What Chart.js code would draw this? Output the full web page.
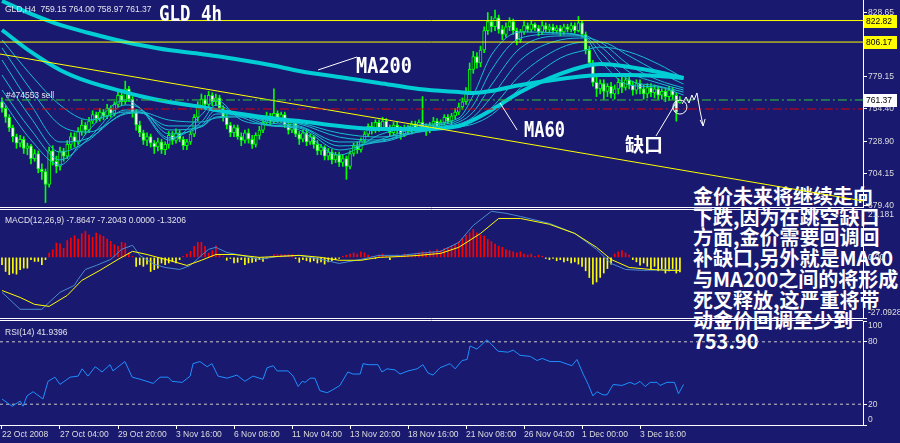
<!DOCTYPE html>
<html>
<head>
<meta charset="utf-8">
<script src="https://cdn.jsdelivr.net/npm/chart.js@4.4.1/dist/chart.umd.min.js"></script>
<style>
html, body { margin: 0; padding: 0; background: #191970; overflow: hidden; }
#wrap { position: relative; width: 900px; height: 443px; }
#wrap canvas { position: absolute; left: 0; top: 0; z-index: 1; }
#note { position: absolute; left: 693px; top: 186px; z-index: 0; color: #fff;
        font: 700 20px/20.7px "Noto Sans CJK SC"; white-space: nowrap; }
</style>
</head>
<body>
<div id="wrap">
  <div id="note">金价未来将继续走向<br>下跌,因为在跳空缺口<br>方面,金价需要回调回<br>补缺口,另外就是MA60<br>与MA200之间的将形成<br>死叉释放,这严重将带<br>动金价回调至少到<br>753.90</div>
  <canvas id="main" width="900" height="443"></canvas>
  <canvas id="macd" width="900" height="443"></canvas>
  <canvas id="rsi" width="900" height="443"></canvas>
</div>
<script>
const BG = '#191970';
const X_MIN = -0.55, X_MAX = 237.5;

// time axis (bar index -> label)
const timeBars = [0, 16, 32, 48, 64, 80, 96, 112, 128, 144, 160, 176];
const timeLabels = ['22 Oct 2008', '27 Oct 04:00', '29 Oct 20:00', '3 Nov 16:00', '6 Nov 08:00', '11 Nov 04:00',
  '13 Nov 20:00', '18 Nov 16:00', '21 Nov 08:00', '26 Nov 04:00', '1 Dec 00:00', '3 Dec 16:00'];

// GLD H4 candles
const opens = [760,755,748,740,733,728,731,724,726,716, 720,708,706,696,722,714,710,722,718,727,
  733,729,737,742,738,745,750,747,752,749, 755,751,758,765,760,770,762,752,742,736,
  730,733,728,725,729,723,727,734,730,736, 731,726,729,735,748,757,762,758,765,760,
  763,755,748,742,736,740,733,730,736,731, 727,734,738,744,749,745,751,746,750,742,
  738,744,735,731,736,729,733,727,722,725, 718,721,715,719,713,716,710,720,726,723,
  730,735,741,738,744,740,745,740,736,742, 738,735,740,737,743,739,744,741,738,742,
  745,741,744,748,745,749,752,756,760,768, 785,795,790,800,815,822,818,825,816,812,
  818,822,815,808,814,819,816,820,817,814, 819,816,818,815,817,814,818,816,819,815,
  821,812,800,790,775,770,774,768,772,766, 770,775,771,777,773,769,774,770,766,771,
  767,770,765,768,764,769,765,759.15];
const highs = [763,757,750,742,735,734,733,728,727,723, 722,712,708,725,726,718,725,724,730,736,
  736,740,746,744,748,753,752,755,754,758, 757,760,768,767,776,772,764,754,745,738,
  736,735,730,732,731,729,737,737,739,738, 733,731,737,750,760,766,765,768,767,766,
  765,757,750,744,742,742,736,738,739,734, 736,741,747,752,751,770,753,752,752,745,
  746,746,737,738,738,735,734,730,727,726, 724,723,721,721,719,718,722,728,729,732,
  737,743,744,746,746,748,747,742,744,744, 741,742,742,745,745,746,764,743,744,748,
  747,746,750,750,751,755,759,763,771,790, 799,798,803,818,829,826,831,827,819,821,
  825,824,817,816,822,821,823,821,819,822, 821,820,820,819,819,820,820,821,821,826,
  823,814,803,792,779,777,777,774,775,773, 778,779,780,781,776,777,777,773,774,774,
  773,772,770,770,772,771,767,764];
const lows = [752,744,737,729,724,725,720,719,712,714, 705,700,682,694,711,705,707,714,716,724,
  725,727,734,735,736,743,744,745,746,747, 748,749,756,757,758,760,748,738,733,727,
  726,725,720,722,720,719,724,727,728,729, 723,723,727,733,745,754,755,756,757,757,
  753,745,739,733,733,731,726,728,728,724, 725,731,736,742,742,743,744,744,740,735,
  736,733,727,729,726,727,724,719,719,715, 715,712,713,710,710,700,708,718,720,721,
  728,733,735,736,737,738,738,733,734,735, 731,733,735,735,737,737,739,734,736,740,
  739,739,742,743,743,747,750,754,758,766, 782,786,787,798,812,814,815,813,808,810,
  815,812,804,806,812,814,814,815,811,812, 814,814,813,813,811,812,814,814,813,814,
  810,797,787,772,764,766,762,764,763,762, 766,767,769,770,765,766,766,762,763,764,
  763,762,762,760,761,762,745,758.97];
const closes = [755,748,740,733,728,731,724,726,716,720, 708,706,696,722,714,710,722,718,727,733,
  729,737,742,738,745,750,747,752,749,755, 751,758,765,760,770,762,752,742,736,730,
  733,728,725,729,723,727,734,730,736,731, 726,729,735,748,757,762,758,765,760,763,
  755,748,742,736,740,733,730,736,731,727, 734,738,744,749,745,751,746,750,742,738,
  744,735,731,736,729,733,727,722,725,718, 721,715,719,713,716,710,720,726,723,730,
  735,741,738,744,740,745,740,736,742,738, 735,740,737,743,739,744,741,738,742,745,
  741,744,748,745,749,752,756,760,768,785, 795,790,800,815,822,818,825,816,812,818,
  822,815,808,814,819,816,820,817,814,819, 816,818,815,817,814,818,816,819,815,821,
  812,800,790,775,770,774,768,772,766,770, 775,771,777,773,769,774,770,766,771,767,
  770,765,768,764,769,765,752,761.37];

// moving averages, read at these bars
const maBars = [0,8,16,24,34,38,46,55,59,66,74,82,93,104,115,126,130,135,143,154,161,165,173,181,188];
const ma200 = [837.9,827.9,819.4,813.2,806.2,803.9,800.0,796.9,795.4,792.3,788.4,783.8,779.1,774.5,769.9,767.5,766.8,768.3,773.0,777.6,779.9,780.7,780.7,779.9,778.4];
const ma60 = [815.5,798.5,784.6,775.3,767.5,764.5,759.8,756.0,753.6,750.5,747.4,745.1,741.2,738.9,738.9,741.2,745.9,753.6,767.5,781.5,787.7,789.2,786.9,783.0,778.4];
const ribbon1 = [761.4,730.4,711.1,738.2,761.4,755.2,730.4,749.8,761.4,745.9,742.0,738.2,718.8,734.3,742.0,747.4,765.2,796.2,814.0,813.2,809.3,792.3,773.0,771.4,765.2];
const ribbon2 = [769.1,738.2,715.0,732.0,757.5,755.2,732.0,744.3,757.5,748.2,741.3,739.7,722.7,730.4,740.5,745.9,757.5,784.6,809.3,812.4,810.1,798.5,776.8,772.2,767.5];
const ribbon3 = [780.7,747.4,721.1,730.4,753.6,753.6,735.1,741.3,753.6,749.8,742.0,740.5,725.8,728.9,738.9,744.3,752.1,773.0,801.6,810.9,810.9,803.1,783.0,774.5,769.1];
const ribbon4 = [792.3,757.5,728.9,732.0,751.3,752.1,738.2,740.5,750.5,749.8,743.6,741.3,728.9,728.9,737.4,742.8,748.2,763.7,792.3,807.8,809.3,806.2,788.4,776.8,770.6];
const ribbon5 = [801.6,769.1,742.0,736.6,750.5,751.3,741.3,741.3,748.2,749.0,745.1,742.8,732.7,730.4,736.6,741.3,745.1,755.2,780.7,801.6,806.2,806.2,795.4,783.0,773.7];
const ribbon6 = [807.8,780.7,757.5,745.9,752.1,752.1,745.9,744.3,747.4,748.2,745.9,743.6,735.8,732.7,736.6,740.5,742.8,749.8,770.6,793.8,800.0,802.3,798.5,789.2,778.4];

// chart objects
const levelPrices = [822.82, 806.17, 761.37, 754.40];
const levelStartBars = [X_MIN, X_MIN, 0.8, 6.3];
const trendBars = [X_MIN, X_MAX];
const trendPrices = [796.9, 683.3];
const mainTicks = [828.65, 803.90, 779.15, 754.40, 728.90, 704.15, 679.40];

// hand-drawn notes (bar, price)
const ma200NoteBars = [87.2, 97.9], ma200NotePrices = [784.6, 794.6];
const ma60NoteBars = [137.4, 142.1], ma60NotePrices = [759.0, 738.2];
const gapNoteBars = [180.4, 185.7], gapNotePrices = [733.5, 758.3];
const gapCircleBar = 187, gapCirclePrice = 755.9;
const pathBars = [187.6, 188.7, 189.5, 190.3, 190.9, 191.7, 192.5, 193.4];
const pathPrices = [758.3, 763.7, 759.0, 765.2, 761.4, 766.8, 753.6, 741.3];

// MACD(12,26,9)
const macdHist = [-3.3,-6.3,-7.7,-7.0,-7.5,-5.5,-4.8,-4.8,-1.0,-1.8, -1.8,-3.3,-1.0,1.9,3.4,6.4,6.1,4.0,7.5,8.6,
  9.7,8.2,10.6,11.6,10.1,9.0,10.9,10.1,9.4,8.2, 7.2,5.7,4.9,6.7,6.4,2.0,0.5,-4.0,-3.3,-4.0,
  -3.0,-6.3,-5.5,-4.8,-2.5,-3.3,-2.5,-1.8,-2.5,-1.0, 0.5,1.5,2.7,4.9,6.7,6.7,4.9,1.9,3.0,5.2,
  1.2,0.3,-1.3,-0.5,-2.5,-2.2,-1.0,-3.3,-2.5,-2.2, -1.8,-1.0,-1.8,-0.5,0.3,1.2,1.2,1.2,1.2,1.2,
  1.2,-0.5,-2.2,-1.0,-1.5,-2.0,-1.5,-2.5,-2.0,-3.0, -2.0,-1.5,-1.0,-0.5,0.5,1.0,1.5,2.0,1.5,2.5,
  2.0,1.0,0.5,-0.5,1.0,1.5,0.5,-1.0,0.5,1.0, 0.5,1.5,1.0,0.5,1.5,2.0,2.5,2.0,3.0,2.5,
  3.5,3.0,4.0,4.5,5.0,6.0,7.0,8.5,10.0,11.0, 12.5,11.0,10.0,9.5,8.0,7.0,6.0,5.0,4.5,3.5,
  3.0,2.5,2.0,2.5,1.5,1.0,1.5,0.5,1.0,0.5, -0.5,-1.0,-0.5,-1.5,-1.0,-2.0,-1.5,-2.5,-2.0,-3.0,
  -4.0,-6.0,-9.0,-12.0,-11.0,-9.0,-7.0,-5.0,-3.0,1.5, 2.5,3.0,2.0,1.0,-1.0,-2.0,-3.5,-2.5,-4.0,-5.0,
  -4.0,-6.0,-5.0,-7.0,-6.0,-5.0,-7.0,-6.5];
const macdBars = [0,5,11,13,16,20,21,23,26,30,33,36,38,42,45,49,52,55,57,59,62,66,71,76,82,88,93,99,104,110,115,121,126,130,135,139,143,151,158,164,168,172,177,183,187];
const macdMain = [-15.6,-23.2,-23.2,-20.1,-15.6,-12.5,-9.8,-5.4,-3.6,-0.9,3.6,5.4,0.9,-3.1,-4.5,-5.4,-3.6,0.9,3.6,4.5,2.2,0.9,-0.9,0.4,0.9,-0.9,-2.7,-0.9,0.9,0.9,1.8,2.7,6.7,14.3,20.6,19.7,18.3,15.2,10.7,3.6,-2.7,-5.4,-5.8,-5.5,-5.8];
const signalBars = [0,5,9,13,18,22,27,32,36,40,46,51,55,59,64,71,82,88,93,99,104,110,115,121,126,132,137,143,151,158,164,168,173,179,184,187];
const macdSignal = [-14.8,-17.9,-21.0,-21.9,-17.0,-10.3,-5.8,-0.9,2.7,1.3,-1.3,-3.6,-1.3,1.3,1.3,0,0.9,0,-1.3,-1.3,0,0.4,0.9,1.8,4.5,10.7,17.4,17.4,14.8,10.7,4.5,-0.9,-4.5,-5.4,-5.8,-5.8];
const macdTicks = [21.181, 0, -27.0928];

// RSI(14)
const rsiBars = [0,2.8,5.0,5.8,6.9,8.6,11.3,12.7,14.6,16.0, 18.8,21.0,22.1,23.7,25.7,27.6,29.8,30.6,33.9,35.9,
  38.1,41.7,43.6,45.8,46.9,49.7,51.9,52.7,54.6,56.6, 57.9,59.6,62.1,64.8,67.0,69.2,72.0,73.1,74.8,75.9,
  78.9,80.3,81.7,82.8,83.6,85.0,86.3,87.7,89.7,91.3, 93.2,95.4,96.8,98.8,99.6,101.0,103.7,104.8,106.2,108.4,
  109.8,112.0,114.5,116.1,117.5,118.9,120.8,123.6,125.0,126.9, 128.3,129.1,131.0,133.8,136.8,139.6,141.0,142.9,145.7,147.6,
  149.0,151.2,153.9,157.2,158.6,160.3,161.7,163.0,164.1,165.8, 166.9,168.6,171.0,173.2,174.6,176.0,177.4,178.8,180.7,181.5,
  183.4,185.5,186.6,188.0];
const rsiVals = [25,18,23,18,28,32,25,42,46,39, 46,47,54,47,56,51,58,52,61,46,
  44,40,46,46,42,41,47,59,61,56, 59,47,45,48,42,47,44,55,57,52,
  52,47,37,42,41,45,45,33,31,34, 38,51,49,49,59,58,58,51,54,53,
  49,52,54,58,50,48,55,59,54,62, 63,76,73,82,71,70,72,67,66,62,
  64,61,61,57,63,49,39,28,32,29, 29,39,38,41,39,42,37,41,41,38,
  41,41,30,39];
const rsiLevels = [80, 20];
const rsiTicks = [100, 80, 20, 0];

const FONT = '"Liberation Sans", Arial, sans-serif';
const AXIS_TXT = '#dcdcdc';

function pts(xs, ys) { return xs.map((x, i) => ({ x: x, y: ys[i] })); }

function lineSet(xs, ys, color, width, extra) {
  return Object.assign({ type: 'line', data: pts(xs, ys), borderColor: color, borderWidth: width,
    pointRadius: 0, fill: false }, extra || {});
}

function hiddenX() {
  return { type: 'linear', min: X_MIN, max: X_MAX, display: false, offset: false };
}

function rightAxis(min, max, tickVals, fmt) {
  return {
    type: 'linear', position: 'right', min: min, max: max,
    afterBuildTicks: s => { s.ticks = tickVals.map(v => ({ value: v })); },
    afterFit: s => { s.width = 37; s.paddingTop = 0; s.paddingBottom = 0; },
    ticks: { color: AXIS_TXT, font: { family: FONT, size: 8.5 }, padding: 1, autoSkip: false, callback: fmt },
    grid: { drawOnChartArea: false, color: '#ffffff', tickLength: 4 },
    border: { color: '#ffffff' }
  };
}

function separators(chart) {
  const { ctx, chartArea } = chart;
  ctx.save();
  ctx.strokeStyle = '#ffffff';
  ctx.lineWidth = 1;
  [0.5, 2.5].forEach(off => {
    ctx.beginPath();
    ctx.moveTo(0, chartArea.bottom + off);
    ctx.lineTo(chartArea.right, chartArea.bottom + off);
    ctx.stroke();
  });
  ctx.restore();
}

const baseOptions = (padTop, padBottom) => ({
  responsive: false, animation: false, events: [],
  layout: { padding: { top: padTop, bottom: padBottom, left: 0, right: 0 } },
  plugins: { legend: { display: false }, tooltip: { enabled: false } }
});

// ---------- main price panel ----------
const levelColors = ['#ffff00', '#ffff00', '#32cd32', '#e00000'];
const levelDashes = [[], [], [9, 3, 2, 3], [9, 3, 2, 3]];
const tagColors = ['#ffff00', '#ffff00', '#ffffff'];

const mainSets = [];
levelPrices.forEach((p, i) => {
  mainSets.push(lineSet([levelStartBars[i], X_MAX], [p, p], levelColors[i], 1, { borderDash: levelDashes[i], order: 2 }));
});
mainSets.push(lineSet(trendBars, trendPrices, '#ffff00', 1, { order: 2 }));
mainSets.push({
  type: 'bar', data: opens.map((o, i) => ({ x: i, y: [lows[i], highs[i]] })),
  backgroundColor: '#00ff00', barThickness: 1, grouped: false, order: 6
});
mainSets.push({
  type: 'bar', data: opens.map((o, i) => ({ x: i, y: [o, closes[i]] })),
  backgroundColor: c => closes[c.dataIndex] >= opens[c.dataIndex] ? BG : '#ffffff',
  borderColor: '#00ff00', borderWidth: 1, borderSkipped: false, minBarLength: 1,
  barThickness: 3, grouped: false, order: 5
});
[ribbon1, ribbon2, ribbon3, ribbon4, ribbon5, ribbon6].forEach(r => {
  mainSets.push(lineSet(maBars, r, '#19bfd0', 1, { cubicInterpolationMode: 'monotone', order: 4 }));
});
mainSets.push(lineSet(maBars, ma60, '#00cdd4', 4, { cubicInterpolationMode: 'monotone', order: 3 }));
mainSets.push(lineSet(maBars, ma200, '#00cdd4', 4, { cubicInterpolationMode: 'monotone', order: 3 }));
mainSets.push(lineSet(ma200NoteBars, ma200NotePrices, '#ffffff', 1, { order: 1 }));
mainSets.push(lineSet(ma60NoteBars, ma60NotePrices, '#ffffff', 1, { order: 1 }));
mainSets.push(lineSet(gapNoteBars, gapNotePrices, '#ffffff', 1, { order: 1 }));
mainSets.push(lineSet(pathBars, pathPrices, '#ffffff', 1, { order: 1 }));

const mainDecor = {
  id: 'mainDecor',
  afterDatasetsDraw(chart) {
    const { ctx, scales: { x, y } } = chart;
    ctx.save();
    ctx.strokeStyle = '#ffffff';
    ctx.lineWidth = 1;
    ctx.beginPath();
    ctx.arc(x.getPixelForValue(gapCircleBar), y.getPixelForValue(gapCirclePrice), 7, 0, Math.PI * 2);
    ctx.stroke();
    const n = pathBars.length;
    const ex = x.getPixelForValue(pathBars[n - 1]), ey = y.getPixelForValue(pathPrices[n - 1]);
    ctx.beginPath();
    ctx.moveTo(ex - 3, ey - 6); ctx.lineTo(ex, ey); ctx.lineTo(ex + 2, ey - 7);
    ctx.stroke();

    ctx.fillStyle = '#ffffff';
    ctx.textBaseline = 'alphabetic';
    ctx.font = 'bold 22px "DejaVu Sans Mono"';
    ctx.fillText('GLD 4h', 159, 21, 63);
    ctx.fillText('MA200', 356, 73, 56);
    ctx.font = 'bold 21px "DejaVu Sans Mono"';
    ctx.fillText('MA60', 524, 137, 41);
    ctx.font = 'bold 19px "Noto Sans CJK SC"';
    ctx.fillText('缺口', 625, 152);

    ctx.fillStyle = '#e4e4ec';
    ctx.font = '8.5px ' + FONT;
    ctx.fillText('GLD,H4  759.15 764.00 758.97 761.37', 5, 12);
    ctx.fillText('#474553 sell', 6, 98);
    ctx.restore();
  },
  afterDraw(chart) {
    const { ctx, chartArea, scales: { y } } = chart;
    ctx.save();
    ctx.font = '8.5px ' + FONT;
    ctx.textBaseline = 'middle';
    tagColors.forEach((c, i) => {
      const py = Math.round(y.getPixelForValue(levelPrices[i]));
      ctx.fillStyle = c;
      ctx.fillRect(chartArea.right + 1, py - 6, 33, 13);
      ctx.fillStyle = '#000000';
      ctx.fillText(levelPrices[i].toFixed(2), chartArea.right + 3, py + 0.5);
    });
    ctx.restore();
    separators(chart);
  }
};

new Chart(document.getElementById('main'), {
  type: 'bar',
  data: { datasets: mainSets },
  options: Object.assign(baseOptions(0, 236), {
    scales: { x: hiddenX(), y: rightAxis(678.6, 838.7, mainTicks, v => v.toFixed(2)) }
  }),
  plugins: [mainDecor]
});

// ---------- MACD panel ----------
const macdDecor = {
  id: 'macdDecor',
  afterDraw(chart) {
    const { ctx } = chart;
    ctx.save();
    ctx.fillStyle = '#e4e4ec';
    ctx.font = '8.5px ' + FONT;
    ctx.fillText('MACD(12,26,9) -7.8647 -7.2043 0.0000 -1.3206', 5, 223);
    ctx.restore();
    separators(chart);
  }
};

new Chart(document.getElementById('macd'), {
  type: 'bar',
  data: {
    datasets: [
      { type: 'bar', data: macdHist.map((v, i) => ({ x: i, y: v })),
        backgroundColor: c => macdHist[c.dataIndex] >= 0 ? '#ff0000' : '#ffff00',
        barThickness: 1, grouped: false, order: 3 },
      lineSet(macdBars, macdMain, '#4a8cd0', 1, { order: 2 }),
      lineSet(signalBars, macdSignal, '#ffff00', 1, { order: 1 })
    ]
  },
  options: Object.assign(baseOptions(210, 125), {
    scales: {
      x: hiddenX(),
      y: rightAxis(-27.0928, 21.181, macdTicks, v => {
        if (v === 21.181) return ['', '21.181'];
        if (v === 0) return '0.00';
        return ['-27.0928', ''];
      })
    }
  }),
  plugins: [macdDecor]
});

// ---------- RSI panel ----------
const rsiDecor = {
  id: 'rsiDecor',
  afterDraw(chart) {
    const { ctx } = chart;
    ctx.save();
    ctx.fillStyle = '#e4e4ec';
    ctx.font = '8.5px ' + FONT;
    ctx.fillText('RSI(14) 41.9396', 5, 335);
    ctx.restore();
  }
};

const rsiSets = [lineSet(rsiBars, rsiVals, '#1e90ff', 1, { order: 1 })];
rsiLevels.forEach(l => {
  rsiSets.push(lineSet([X_MIN, X_MAX], [l, l], '#c8c8c8', 1, { borderDash: [3, 3], order: 2 }));
});

new Chart(document.getElementById('rsi'), {
  type: 'line',
  data: { datasets: rsiSets },
  options: Object.assign(baseOptions(321, 0), {
    scales: {
      x: {
        type: 'linear', min: X_MIN, max: X_MAX, offset: false,
        afterBuildTicks: s => { s.ticks = timeBars.map(v => ({ value: v })); },
        afterFit: s => { s.height = 18; s.paddingLeft = 0; s.paddingRight = 0; },
        ticks: { color: AXIS_TXT, font: { family: FONT, size: 8.5 }, align: 'start', padding: 1,
          maxRotation: 0, autoSkip: false,
          callback: v => { const k = timeBars.indexOf(v); return k >= 0 ? timeLabels[k] : ''; } },
        grid: { drawOnChartArea: false, color: '#ffffff', tickLength: 4, offset: false },
        border: { color: '#ffffff' }
      },
      y: rightAxis(0, 100, rsiTicks, v => {
        if (v === 100) return ['', '100'];
        if (v === 0) return ['0', ''];
        return String(v);
      })
    }
  }),
  plugins: [rsiDecor]
});
</script>
</body>
</html>
